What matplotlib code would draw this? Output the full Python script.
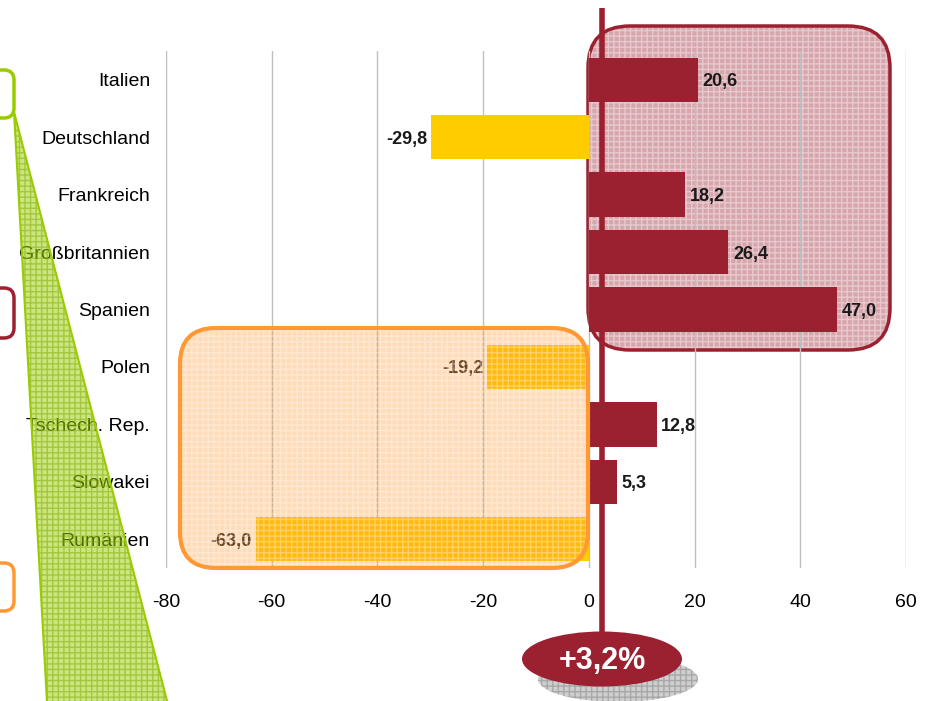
import matplotlib.pyplot as plt
from matplotlib.patches import FancyBboxPatch, Polygon, Ellipse

plt.rcParams['font.family'] = ['Liberation Sans', 'DejaVu Sans']
plt.rcParams['hatch.linewidth'] = 1.0

countries = ["Italien", "Deutschland", "Frankreich", "Großbritannien", "Spanien",
             "Polen", "Tschech. Rep.", "Slowakei", "Rumänien"]
changes = [20.6, -29.8, 18.2, 26.4, 47.0, -19.2, 12.8, 5.3, -63.0]
x_ticks = [-80, -60, -40, -20, 0, 20, 40, 60]
total_label = "+3,2%"

RED = "#9B2030"
YELLOW = "#FFCC00"
ORANGE = "#FF9933"
GREEN = "#99CC00"

W, H = 930, 701


def pixel_layer(fig, z):
    """Full-figure axes in pixel units (y pointing down) for the hand-drawn shapes."""
    layer = fig.add_axes([0, 0, 1, 1], zorder=z)
    layer.set_xlim(0, W)
    layer.set_ylim(H, 0)
    layer.axis('off')
    layer.patch.set_alpha(0)
    return layer


def rounded_box(layer, x, y, w, h, radius, edge, face=None, alpha=0.4, lw=2.5):
    # hatched, see-through fill first, then a solid outline on top
    if face is not None:
        layer.add_patch(FancyBboxPatch((x, y), w, h,
                                       boxstyle=f"round,pad=0,rounding_size={radius}",
                                       facecolor=face, edgecolor="white", hatch="+++",
                                       linewidth=0, alpha=alpha, clip_on=False))
    layer.add_patch(FancyBboxPatch((x, y), w, h,
                                   boxstyle=f"round,pad=0,rounding_size={radius}",
                                   facecolor="white" if face is None else "none",
                                   edgecolor=edge, linewidth=lw, clip_on=False))


fig = plt.figure(figsize=(W / 100, H / 100), dpi=100)

bg = pixel_layer(fig, 0)
ax = fig.add_axes([166 / W, 1 - 568 / H, 740 / W, 517 / H], zorder=1)
ax.patch.set_alpha(0)
fg = pixel_layer(fig, 2)

# red box sits behind the bars
rounded_box(bg, 588, 26, 302, 324, 42, RED, face=RED, alpha=0.4)

# bars
positions = list(range(len(countries)))
bar_colors = [RED if v > 0 else YELLOW for v in changes]
ax.barh(positions, changes, height=0.77, color=bar_colors, zorder=2)

for pos, value in zip(positions, changes):
    text = f"{value:.1f}".replace(".", ",")
    if value > 0:
        ax.text(value + 0.9, pos, text, ha="left", va="center_baseline",
                fontsize=13, fontweight="bold", color="#1a1a1a", zorder=3)
    else:
        ax.text(value - 0.8, pos, text, ha="right", va="center_baseline",
                fontsize=13, fontweight="bold", color="#1a1a1a", zorder=3)

ax.set_xlim(-80, 60)
ax.set_ylim(len(countries) - 0.5, -0.5)
ax.set_xticks(x_ticks)
ax.set_xticklabels([str(t) for t in x_ticks])
ax.set_yticks(positions)
ax.set_yticklabels(countries)
for label in ax.get_yticklabels():
    label.set_verticalalignment("center_baseline")
ax.tick_params(axis="both", length=0, labelsize=14)
ax.tick_params(axis="y", pad=11.5)
ax.tick_params(axis="x", pad=19)
ax.grid(axis="x", color="#BFBFBF", linewidth=1)
ax.set_axisbelow(True)
for spine in ax.spines.values():
    spine.set_visible(False)

# orange box lies over the bars
rounded_box(fg, 180, 328, 408, 240, 36, ORANGE, face=ORANGE, alpha=0.34, lw=3)

# small boxes cut off at the left edge
rounded_box(fg, -30, 70, 44, 48, 10, GREEN)
rounded_box(fg, -30, 288, 44, 50, 10, RED)
rounded_box(fg, -30, 563, 44, 48, 10, ORANGE)

# green wedge
wedge = [(14, 112), (48, 720), (172, 720)]
fg.add_patch(Polygon(wedge, closed=True, facecolor=GREEN, edgecolor="#7FAA00",
                     hatch="+++", linewidth=0, alpha=0.5, clip_on=False))
fg.add_patch(Polygon(wedge, closed=True, facecolor="none", edgecolor=GREEN,
                     linewidth=1.5, clip_on=False))

# total marker
fg.plot([602, 602], [8, 640], color=RED, linewidth=4, solid_capstyle="butt")
fg.add_patch(Ellipse((618, 679), 160, 46, facecolor="#CFCFCF", edgecolor="#A8A8A8",
                     hatch="+++", linewidth=0))
fg.add_patch(Ellipse((602, 659), 160, 55, facecolor=RED, edgecolor="none"))
fg.text(602, 661, total_label, ha="center", va="center", color="white",
        fontsize=22, fontweight="bold")

fig.savefig("out.png", dpi=100)
